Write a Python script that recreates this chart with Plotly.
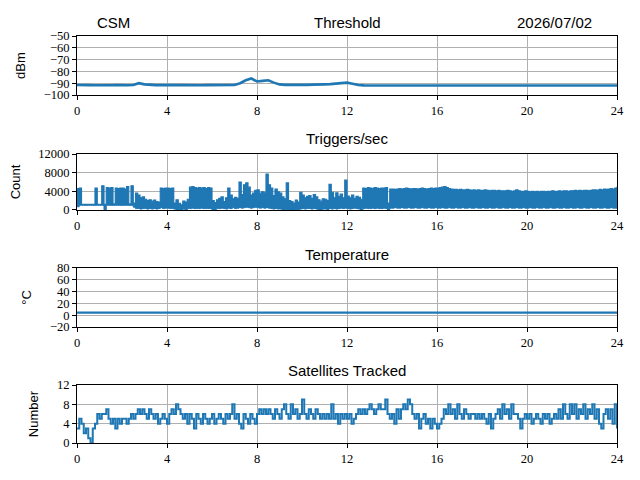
import plotly.graph_objects as go
from plotly.subplots import make_subplots

# 时间轴 (小时)
thr_hours = [i / 4 for i in range(97)]
trig_hours = [i / 10 for i in range(241)]
temp_hours = list(range(25))
sat_hours = [i / 10 for i in range(241)]

# Threshold (dBm), every 15 min
threshold = [
    -91.5, -91.8, -91.6, -91.7, -91.5, -91.8, -91.7, -91.6, -91.8, -91.7,
    -91.5, -90.0, -91.0, -91.4, -91.6, -91.5, -91.8, -91.6, -91.5, -91.7,
    -91.6, -91.5, -91.7, -91.6, -91.5, -91.7, -91.6, -91.6, -91.5, -90.0,
    -87.5, -86.0, -88.5, -88.0, -87.5, -89.5, -91.0, -91.4, -91.5, -91.3,
    -91.5, -91.4, -91.2, -91.3, -91.0, -90.8, -90.5, -90.0, -89.5, -90.5,
    -91.5, -91.8, -92.0, -92.0, -91.9, -92.0, -92.0, -91.9, -92.0, -92.0,
    -92.0, -91.9, -92.0, -92.0, -92.0, -91.9, -92.0, -92.0, -92.0, -91.9,
    -92.0, -92.0, -92.0, -91.9, -92.0, -92.0, -92.0, -91.9, -92.0, -92.0,
    -92.0, -91.9, -92.0, -92.0, -92.0, -91.9, -92.0, -92.0, -92.0, -91.9,
    -92.0, -92.0, -92.0, -91.9, -92.0, -92.0, -92.0,
]

# Triggers/sec: upper and lower edge of the band, every 6 min
trig_hi = [
    4600, 4700, 1200, 1200, 1200, 1200, 1200, 1200, 4700, 1200,
    1200, 5200, 1200, 4800, 4700, 4800, 1300, 4700, 4600, 4700,
    4700, 4500, 5000, 1300, 5200, 1500, 3600, 3200, 2600, 2800,
    2300, 2000, 2200, 1900, 2100, 1800, 1700, 4700, 4600, 4700,
    4700, 4600, 4700, 1500, 2200, 1400, 1100, 1900, 1700, 2300,
    4900, 5000, 4800, 4700, 4800, 4700, 4800, 4600, 4800, 4700,
    2000, 1600, 2200, 2500, 2800, 1800, 2600, 4700, 3200, 2400,
    2700, 2500, 6000, 3300, 5400, 5800, 4900, 3200, 3600, 4200,
    4300, 3600, 3900, 3800, 7700, 5400, 4700, 3100, 4500, 3900,
    3600, 2800, 2400, 5800, 2000, 1800, 1500, 2100, 1700, 3800,
    3200, 2600, 2900, 3100, 2500, 3300, 2800, 2200, 1900, 2400,
    2300, 2000, 5500, 3800, 2600, 3700, 2900, 3400, 2600, 6400,
    3000, 2600, 3200, 2500, 2900, 2700, 2300, 4700, 4600, 4800,
    4700, 4600, 4800, 4700, 4600, 4700, 4700, 4800, 1500, 4500,
    4500, 4400, 4500, 4600, 4500, 4600, 4700, 4600, 4500, 4600,
    4600, 4500, 4600, 4700, 4600, 4500, 4600, 4700, 4600, 4700,
    4700, 4800, 4900, 5000, 4800, 4600, 4500, 4400, 4400, 4300,
    4400, 4300, 4300, 4400, 4300, 4200, 4300, 4200, 4300, 4200,
    4200, 4300, 4200, 4100, 4200, 4200, 4100, 4200, 4100, 4100,
    4100, 4200, 4100, 4000, 4100, 4300, 4100, 4000, 4000, 4100,
    4000, 3900, 4000, 3900, 4000, 3900, 4000, 4000, 3900, 4000,
    4000, 4100, 4000, 4000, 4100, 4000, 4100, 4100, 4000, 4100,
    4100, 4200, 4100, 4200, 4100, 4200, 4200, 4100, 4200, 4300,
    4300, 4200, 4400, 4300, 4500, 4400, 4500, 4600, 4500, 4700,
    5000,
]
trig_lo = [
    700, 1000, 1000, 1000, 1000, 1000, 1000, 1000, 1000, 1000,
    1000, 1000, 0, 1000, 1000, 1000, 1000, 1000, 1000, 1000,
    1000, 1000, 1000, 1000, 1000, 600, 300, 300, 200, 300,
    300, 200, 300, 200, 300, 200, 300, 500, 300, 400,
    400, 300, 300, 200, 0, 100, 0, 200, 0, 300,
    300, 400, 300, 300, 300, 400, 300, 300, 300, 300,
    0, 100, 300, 300, 400, 300, 200, 400, 300, 500,
    300, 400, 500, 400, 500, 600, 500, 400, 500, 600,
    500, 400, 500, 400, 500, 400, 300, 200, 300, 200,
    200, 100, 0, 100, 0, 0, 0, 100, 0, 200,
    300, 200, 300, 300, 200, 300, 200, 100, 0, 200,
    200, 100, 300, 200, 300, 200, 300, 400, 300, 400,
    300, 200, 300, 400, 300, 200, 0, 300, 400, 300,
    300, 400, 300, 400, 300, 300, 400, 300, 0, 400,
    400, 500, 400, 400, 500, 400, 400, 500, 400, 400,
    500, 400, 400, 500, 400, 400, 500, 400, 400, 500,
    400, 400, 500, 400, 400, 500, 400, 400, 500, 400,
    400, 500, 400, 400, 500, 400, 400, 500, 400, 400,
    500, 400, 400, 500, 400, 400, 500, 400, 400, 500,
    400, 400, 500, 400, 400, 500, 400, 400, 500, 400,
    400, 500, 400, 400, 500, 400, 400, 500, 400, 400,
    500, 400, 400, 500, 400, 400, 500, 400, 400, 500,
    400, 400, 500, 400, 400, 500, 400, 400, 500, 400,
    400, 500, 400, 400, 500, 400, 400, 500, 400, 400,
    500,
]

# Temperature (°C), hourly
temperature = [4.5, 4.4, 4.5, 4.5, 4.4, 4.5, 4.5, 4.4, 4.5, 4.5, 4.4, 4.5,
               4.5, 4.4, 4.5, 4.5, 4.4, 4.5, 4.5, 4.4, 4.5, 4.5, 4.4, 4.5, 4.5]

# Satellites tracked, every 6 min
satellites = [
    3, 5, 4, 2, 3, 1, 0, 3, 4, 6,
    5, 6, 6, 7, 5, 4, 5, 3, 5, 4,
    5, 5, 4, 5, 6, 5, 6, 7, 6, 7,
    6, 5, 7, 6, 5, 6, 4, 5, 6, 5,
    4, 6, 7, 6, 8, 7, 6, 5, 6, 4,
    6, 5, 3, 6, 5, 4, 6, 5, 4, 5,
    6, 4, 5, 6, 5, 4, 6, 5, 6, 8,
    5, 6, 4, 3, 6, 5, 4, 6, 5, 4,
    6, 7, 6, 7, 6, 7, 6, 5, 7, 6,
    5, 7, 8, 6, 5, 8, 6, 7, 5, 6,
    9, 6, 5, 7, 6, 5, 7, 6, 5, 6,
    5, 6, 5, 8, 5, 6, 4, 6, 5, 6,
    5, 6, 4, 5, 6, 7, 6, 7, 6, 7,
    8, 7, 6, 7, 8, 7, 7, 9, 6, 5,
    6, 4, 7, 5, 7, 8, 7, 9, 8, 6,
    5, 6, 3, 5, 6, 4, 5, 3, 5, 4,
    3, 4, 5, 7, 6, 8, 6, 7, 5, 8,
    6, 5, 7, 6, 5, 6, 6, 5, 6, 5,
    6, 5, 4, 6, 3, 5, 6, 7, 5, 8,
    6, 7, 5, 8, 6, 6, 5, 3, 5, 6,
    5, 6, 4, 5, 6, 5, 4, 6, 5, 6,
    4, 5, 6, 5, 7, 5, 8, 6, 5, 8,
    6, 8, 5, 7, 6, 8, 5, 7, 6, 8,
    5, 7, 4, 3, 6, 7, 5, 7, 4, 8,
    3,
]

blue = "#1f77b4"
sans = "Liberation Sans"
serif = "Liberation Serif"

fig = make_subplots(rows=4, cols=1, vertical_spacing=0.1)

fig.add_trace(go.Scatter(x=thr_hours, y=threshold, mode="lines",
                         line=dict(color=blue, width=2.6)), row=1, col=1)
fig.add_trace(go.Scatter(x=trig_hours, y=trig_lo, mode="lines",
                         line=dict(color=blue, width=1, shape="hv")), row=2, col=1)
fig.add_trace(go.Scatter(x=trig_hours, y=trig_hi, mode="lines", fill="tonexty",
                         fillcolor=blue, line=dict(color=blue, width=1.2, shape="hv")),
              row=2, col=1)
fig.add_trace(go.Scatter(x=temp_hours, y=temperature, mode="lines",
                         line=dict(color=blue, width=2.2)), row=3, col=1)
fig.add_trace(go.Scatter(x=sat_hours, y=satellites, mode="lines",
                         line=dict(color=blue, width=2, shape="hv")), row=4, col=1)

domains = [(0.855, 1.0), (0.5725, 0.71), (0.285, 0.43), (0.0, 0.1425)]
yranges = [(-100, -50), (0, 12000), (-20, 80), (0, 12)]
yticks = [list(range(-100, -49, 10)), [0, 4000, 8000, 12000],
          list(range(-20, 81, 20)), [0, 4, 8, 12]]
ylabels = ["dBm", "Count", "°C", "Number"]

axis_style = dict(showline=True, linecolor="black", linewidth=1, mirror=True,
                  ticks="outside", ticklen=4, tickcolor="black",
                  showgrid=True, gridcolor="#b0b0b0", gridwidth=0.8,
                  zeroline=False, automargin=False,
                  tickfont=dict(family=serif, size=12.5, color="black"))

for i in range(4):
    fig.update_xaxes(range=[0, 24], tickvals=list(range(0, 25, 4)),
                     row=i + 1, col=1, **axis_style)
    fig.update_yaxes(range=list(yranges[i]), tickvals=yticks[i], domain=list(domains[i]),
                     tickformat="d",
                     title=dict(text=ylabels[i], font=dict(family=sans, size=13, color="black")),
                     row=i + 1, col=1, **axis_style)

titles = [("Threshold", 1.034), ("Triggers/sec", 0.747),
          ("Temperature", 0.464), ("Satellites Tracked", 0.177)]
for text, ypos in titles:
    fig.add_annotation(text=text, x=0.5, y=ypos, xref="paper", yref="paper",
                       showarrow=False, xanchor="center", yanchor="middle",
                       font=dict(family=sans, size=15, color="black"))
fig.add_annotation(text="CSM", x=0.0685, y=1.034, xref="paper", yref="paper",
                   showarrow=False, xanchor="center", yanchor="middle",
                   font=dict(family=sans, size=15, color="black"))
fig.add_annotation(text="2026/07/02", x=0.885, y=1.034, xref="paper", yref="paper",
                   showarrow=False, xanchor="center", yanchor="middle",
                   font=dict(family=sans, size=15, color="black"))

# the page puts 8px of body margin round the figure, so shift the margins
fig.update_layout(width=640, height=480, showlegend=False,
                  margin=dict(l=69, r=31, t=28, b=45),
                  plot_bgcolor="white", paper_bgcolor="white")

fig.write_html("out.html")
